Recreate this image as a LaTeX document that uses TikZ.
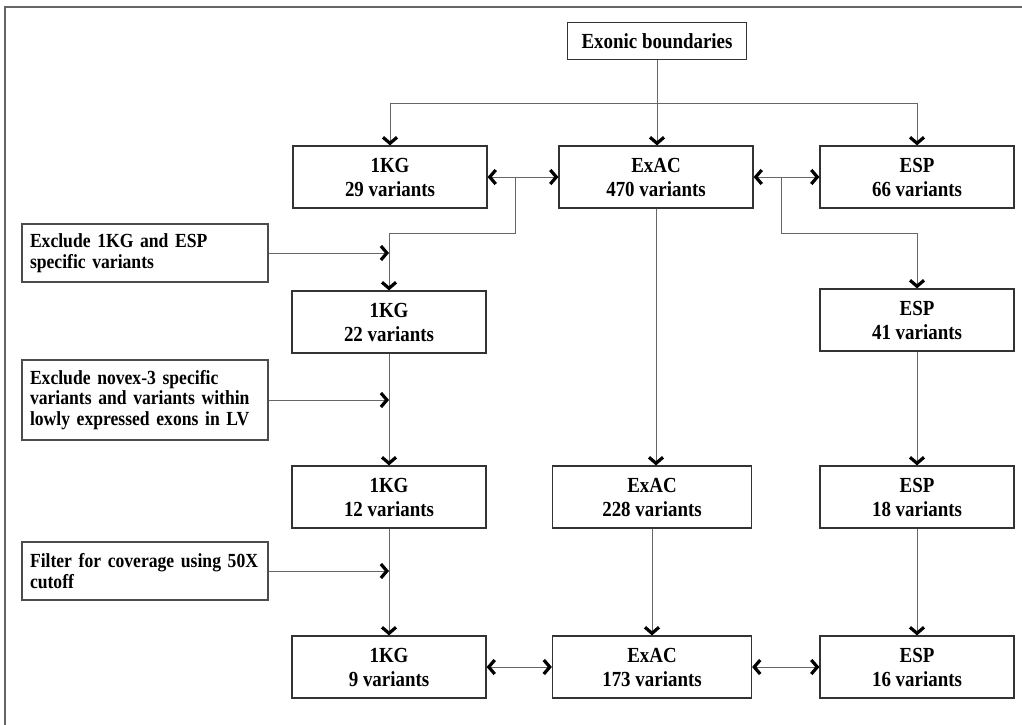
\documentclass[tikz,border=0pt]{standalone}
\usepackage{fontspec}
\setmainfont{Liberation Serif}[FakeStretch=0.88]
\usetikzlibrary{arrows.meta,calc}

\newcommand{\boxfont}{\fontsize{21.5}{24}\selectfont\bfseries\spaceskip 4.8pt\relax}
\newcommand{\filterfont}{\fontsize{20}{20.5}\selectfont\bfseries\spaceskip 4.5pt\relax}

\tikzset{
  box/.style={draw=black!80, line width=1.2pt, minimum width=194pt, minimum height=62pt,
    inner sep=0pt, align=center, font=\boxfont},
  filterbox/.style={draw=black!70, line width=1.1pt, text width=230pt, inner xsep=8pt,
    inner ysep=0pt, align=left, font=\filterfont},
  link/.style={draw=black!60, line width=0.9pt},
  onearrow/.style={-{Straight Barb[length=6pt,width=14pt,line width=3.2pt,color=black]}},
  twoarrow/.style={{Straight Barb[length=6pt,width=14pt,line width=3.2pt,color=black]}-{Straight Barb[length=6pt,width=14pt,line width=3.2pt,color=black]}}
}

\begin{document}
\begin{tikzpicture}[x=1pt,y=-1pt]
    % page and frame
    \useasboundingbox (0,0) rectangle (1022,725);
    \draw[black!60, line width=1.3pt] (5,725) -- (5,7) -- (1022,7);

    % start box and the three sources
    \node[box, minimum width=179pt, minimum height=37pt] (exon) at (657,41) {Exonic boundaries};
    \node[box] (kg1) at (390,177) {1KG\\29 variants};
    \node[box] (exac1) at (656,177) {ExAC\\470 variants};
    \node[box] (esp1) at (917,177) {ESP\\66 variants};

    % filtered counts
    \node[box] (kg2) at (389,322) {1KG\\22 variants};
    \node[box] (esp2) at (917,320) {ESP\\41 variants};
    \node[box] (kg3) at (389,497) {1KG\\12 variants};
    \node[box, minimum width=199pt] (exac2) at (652,497) {ExAC\\228 variants};
    \node[box] (esp3) at (917,497) {ESP\\18 variants};
    \node[box] (kg4) at (389,667) {1KG\\9 variants};
    \node[box, minimum width=199pt] (exac3) at (652,667) {ExAC\\173 variants};
    \node[box] (esp4) at (917,667) {ESP\\16 variants};

    % filtering steps on the left
    \node[filterbox, minimum height=58pt] (excl1) at (145,253) {Exclude 1KG and ESP\\specific variants};
    \node[filterbox, minimum height=80pt] (excl2) at (145,400) {Exclude novex-3 specific\\variants and variants within\\lowly expressed exons in LV};
    \node[filterbox, minimum height=58pt] (cov) at (145,571) {Filter for coverage using 50X\\cutoff};

    % split from the start box
    \coordinate (split) at (657,103);
    \draw[link] (exon.south) -- (split);
    \draw[link] (kg1.north |- split) -- (esp1.north |- split);
    \draw[link,onearrow] (kg1.north |- split) -- (kg1.north);
    \draw[link,onearrow] (split) -- (split |- exac1.north);
    \draw[link,onearrow] (esp1.north |- split) -- (esp1.north);

    % overlaps between the sources
    \draw[link,twoarrow] (kg1.east) -- (exac1.west);
    \draw[link,twoarrow] (exac1.east) -- (esp1.west);
    \coordinate (kgfork) at ($(kg1.east)!0.4!(exac1.west)$);
    \coordinate (espfork) at ($(exac1.east)!0.43!(esp1.west)$);
    \draw[link,onearrow] (kgfork) -- ++(0,56) -| (kg2.north);
    \draw[link,onearrow] (espfork) -- ++(0,56) -| (esp2.north);

    % filters feeding the 1KG column
    \draw[link,onearrow] (excl1.east) -- (excl1.east -| kg2.north);
    \draw[link,onearrow] (excl2.east) -- (excl2.east -| kg2.south);
    \draw[link,onearrow] (cov.east) -- (cov.east -| kg3.south);

    % down the columns
    \draw[link,onearrow] (kg2.south) -- (kg3.north);
    \draw[link,onearrow] (kg3.south) -- (kg4.north);
    \draw[link,onearrow] (exac1.south) -- (exac1.south |- exac2.north);
    \draw[link,onearrow] (exac2.south) -- (exac3.north);
    \draw[link,onearrow] (esp2.south) -- (esp3.north);
    \draw[link,onearrow] (esp3.south) -- (esp4.north);

    % final overlaps
    \draw[link,twoarrow] (kg4.east) -- (exac3.west);
    \draw[link,twoarrow] (exac3.east) -- (esp4.west);
\end{tikzpicture}
\end{document}
